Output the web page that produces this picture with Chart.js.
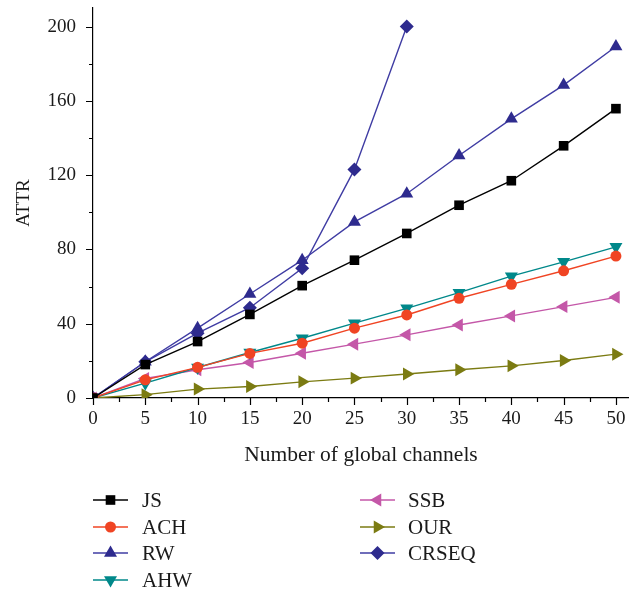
<!DOCTYPE html>
<html>
<head>
<meta charset="utf-8">
<script src="https://cdn.jsdelivr.net/npm/chart.js@4/dist/chart.umd.min.js"></script>
<style>
    html, body { margin: 0; padding: 0; background: #fff; }
    #wrap { width: 629px; height: 592px; }
</style>
</head>
<body>
<div id="wrap"><canvas id="chart" width="629" height="592"></canvas></div>
<script>
const channels = [0, 5, 10, 15, 20, 25, 30, 35, 40, 45, 50];
const xTicks = [0, 5, 10, 15, 20, 25, 30, 35, 40, 45, 50];
const yTicks = [0, 40, 80, 120, 160, 200];

const js = [0, 18, 30.4, 45, 60.5, 74.2, 88.6, 103.8, 117, 135.8, 155.8];
const ach = [0, 9.8, 16.5, 24, 29.5, 37.6, 44.7, 53.7, 61.2, 68.5, 76.4];
const rw = [0, 19.5, 37.6, 56, 74.2, 94.8, 110, 130.6, 150.3, 168.5, 189.3];
const ahw = [0, 8, 16.4, 24.5, 32.2, 40.3, 48.3, 56.7, 65.6, 73.3, 81.4];
const ssb = [0, 10.5, 15.2, 19.1, 24.1, 29, 34, 39.3, 44.2, 49.2, 54.2];
const our = [0, 1.8, 4.8, 6.2, 8.7, 10.7, 12.9, 15.2, 17.3, 20.2, 23.6];
const crseq = [0, 19.5, 34.9, 48.6, 69.8, 123.1, 200];

const FONT = '"Liberation Serif", "DejaVu Serif", serif';

function series(label, data, line, fill, style, radius, rotation) {
    return {
        label: label,
        data: data.map((v, i) => ({ x: channels[i], y: v })),
        borderColor: line,
        backgroundColor: fill,
        pointBackgroundColor: fill,
        pointBorderColor: fill,
        pointBorderWidth: 0,
        borderWidth: 1.4,
        pointStyle: style,
        pointRadius: radius,
        pointHoverRadius: radius,
        pointRotation: rotation,
        tension: 0,
        clip: 0
    };
}

const datasets = [
    series('JS', js, '#000000', '#000000', 'rect', 6.8, 0),
    series('ACH', ach, '#f04423', '#f04423', 'circle', 5.5, 0),
    series('RW', rw, '#3f3ca3', '#2e2b8e', 'triangle', 7.5, 0),
    series('AHW', ahw, '#00888a', '#00888a', 'triangle', 7.5, 180),
    series('SSB', ssb, '#c457a8', '#c457a8', 'triangle', 7.5, 270),
    series('OUR', our, '#7b7b12', '#7b7b12', 'triangle', 7.5, 90),
    series('CRSEQ', crseq, '#3f3ca3', '#2e2b8e', 'rectRot', 7, 0)
];

// draws major and minor tick marks outside the axes
const tickMarks = {
    id: 'tickMarks',
    afterDraw(chart) {
        const ctx = chart.ctx;
        const x = chart.scales.x;
        const y = chart.scales.y;
        const area = chart.chartArea;
        ctx.save();
        ctx.strokeStyle = '#000';
        ctx.lineWidth = 1.2;
        ctx.beginPath();
        for (let v = 0; v <= 50; v += 2.5) {
            const px = Math.round(x.getPixelForValue(v)) + 0.5;
            const len = v % 5 === 0 ? 7 : 4;
            ctx.moveTo(px, area.bottom);
            ctx.lineTo(px, area.bottom + len);
        }
        for (let v = 0; v <= 200; v += 20) {
            const py = Math.round(y.getPixelForValue(v)) + 0.5;
            const len = v % 40 === 0 ? 7 : 4;
            ctx.moveTo(area.left, py);
            ctx.lineTo(area.left - len, py);
        }
        ctx.stroke();
        ctx.restore();
    }
};

// two-column legend under the plot
const columnLegend = {
    id: 'columnLegend',
    afterDraw(chart) {
        const ctx = chart.ctx;
        const metas = chart.data.datasets;
        const cols = [93, 360];
        const rows = [500, 527, 553, 580];
        ctx.save();
        ctx.font = '21px ' + FONT;
        ctx.textBaseline = 'middle';
        metas.forEach((ds, i) => {
            const col = i < 4 ? 0 : 1;
            const row = i < 4 ? i : i - 4;
            const lx = cols[col];
            const ly = rows[row];
            ctx.strokeStyle = ds.borderColor;
            ctx.lineWidth = 1.4;
            ctx.beginPath();
            ctx.moveTo(lx, ly);
            ctx.lineTo(lx + 35, ly);
            ctx.stroke();
            ctx.fillStyle = ds.pointBackgroundColor;
            Chart.helpers.drawPoint(ctx, {
                pointStyle: ds.pointStyle,
                rotation: ds.pointRotation,
                radius: ds.pointRadius,
                borderWidth: 0
            }, lx + 17.5, ly);
            ctx.fillStyle = '#1a1a1a';
            ctx.fillText(ds.label, lx + (col === 0 ? 49 : 48), ly + 1);
        });
        ctx.restore();
    }
};

new Chart(document.getElementById('chart'), {
    type: 'line',
    data: { datasets: datasets },
    plugins: [tickMarks, columnLegend],
    options: {
        responsive: false,
        animation: false,
        layout: { autoPadding: false, padding: { left: 0, right: 0, top: 8, bottom: 124 } },
        plugins: {
            legend: { display: false },
            tooltip: { enabled: false }
        },
        scales: {
            x: {
                type: 'linear',
                min: 0,
                max: 51.25,
                afterFit: (scale) => {
                    scale.height = 70;
                    scale.paddingLeft = 0;
                    scale.paddingRight = 0;
                },
                afterBuildTicks: (scale) => { scale.ticks = xTicks.map(v => ({ value: v })); },
                border: { display: true, color: '#000', width: 1.2 },
                grid: { display: false, drawTicks: true, tickLength: 7 },
                ticks: {
                    color: '#1a1a1a',
                    font: { family: FONT, size: 19 },
                    padding: 3,
                    maxRotation: 0
                },
                title: {
                    display: true,
                    text: 'Number of global channels',
                    color: '#1a1a1a',
                    font: { family: FONT, size: 21.5 },
                    padding: { top: 3, bottom: 0 }
                }
            },
            y: {
                type: 'linear',
                min: 0,
                max: 210,
                afterFit: (scale) => {
                    scale.width = 93;
                    scale.paddingTop = 0;
                    scale.paddingBottom = 0;
                },
                afterBuildTicks: (scale) => { scale.ticks = yTicks.map(v => ({ value: v })); },
                border: { display: true, color: '#000', width: 1.2 },
                grid: { display: false, drawTicks: true, tickLength: 7 },
                ticks: {
                    color: '#1a1a1a',
                    font: { family: FONT, size: 19 },
                    padding: 10
                },
                title: {
                    display: true,
                    text: 'ATTR',
                    color: '#1a1a1a',
                    font: { family: FONT, size: 19 },
                    padding: { top: 13, bottom: 0 }
                }
            }
        }
    }
});
</script>
</body>
</html>
